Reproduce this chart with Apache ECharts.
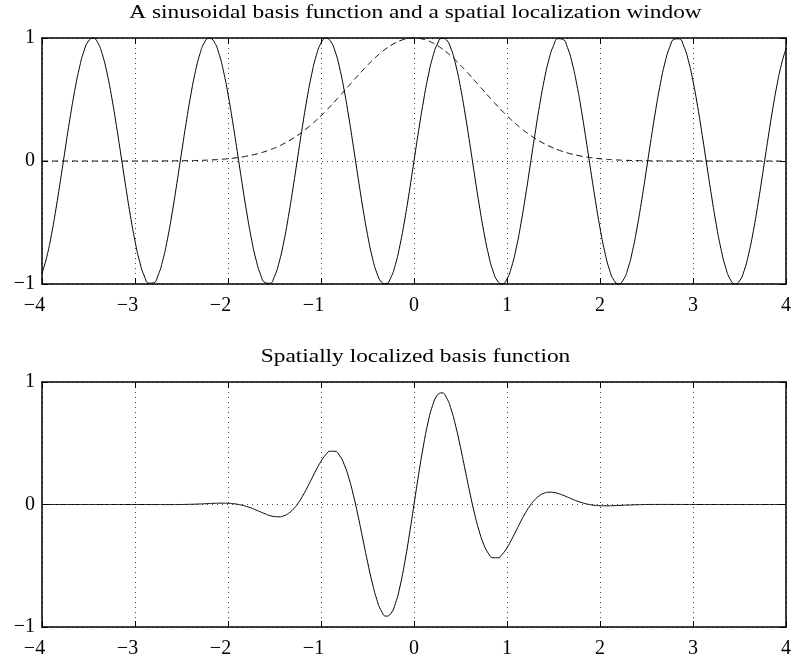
<!DOCTYPE html>
<html>
<head>
<meta charset="utf-8">
<script src="https://cdn.jsdelivr.net/npm/echarts@6/dist/echarts.min.js"></script>
<style>html,body{margin:0;padding:0;background:#fff}#c{width:794px;height:660px}</style>
</head>
<body>
<div id="c"></div>
<script>
// sample positions (x) along the horizontal axis
const xs = [-4,-3.95,-3.9,-3.85,-3.8,-3.75,-3.7,-3.65,-3.6,-3.55,-3.5,-3.45,-3.4,-3.35,-3.3,-3.25,-3.2,-3.15,-3.1,-3.05,
-3,-2.95,-2.9,-2.85,-2.8,-2.75,-2.7,-2.65,-2.6,-2.55,-2.5,-2.45,-2.4,-2.35,-2.3,-2.25,-2.2,-2.15,-2.1,-2.05,
-2,-1.95,-1.9,-1.85,-1.8,-1.75,-1.7,-1.65,-1.6,-1.55,-1.5,-1.45,-1.4,-1.35,-1.3,-1.25,-1.2,-1.15,-1.1,-1.05,
-1,-0.95,-0.9,-0.85,-0.8,-0.75,-0.7,-0.65,-0.6,-0.55,-0.5,-0.45,-0.4,-0.35,-0.3,-0.25,-0.2,-0.15,-0.1,-0.05,
0,0.05,0.1,0.15,0.2,0.25,0.3,0.35,0.4,0.45,0.5,0.55,0.6,0.65,0.7,0.75,0.8,0.85,0.9,0.95,
1,1.05,1.1,1.15,1.2,1.25,1.3,1.35,1.4,1.45,1.5,1.55,1.6,1.65,1.7,1.75,1.8,1.85,1.9,1.95,
2,2.05,2.1,2.15,2.2,2.25,2.3,2.35,2.4,2.45,2.5,2.55,2.6,2.65,2.7,2.75,2.8,2.85,2.9,2.95,
3,3.05,3.1,3.15,3.2,3.25,3.3,3.35,3.4,3.45,3.5,3.55,3.6,3.65,3.7,3.75,3.8,3.85,3.9,3.95,4];

// top panel: sinusoidal basis function (solid)
const sinusoid = [-0.9129,-0.7836,-0.6055,-0.3898,-0.1499,0.0994,0.3425,0.5643,0.7510,0.8910,
0.9756,0.9996,0.9614,0.8634,0.7118,0.5159,0.2879,0.0420,-0.2065,-0.4421,
-0.6503,-0.8180,-0.9349,-0.9936,-0.9906,-0.9260,-0.8038,-0.6316,-0.4202,-0.1826,
0.0663,0.3111,0.5366,0.7287,0.8755,0.9678,1.0000,0.9700,0.8797,0.7347,
0.5440,0.3195,0.0752,-0.1739,-0.4121,-0.6247,-0.7985,-0.9226,-0.9894,-0.9946,
-0.9380,-0.8231,-0.6570,-0.4500,-0.2151,0.0332,0.2794,0.5083,0.7055,0.8589,
0.9589,0.9993,0.9775,0.8950,0.7568,0.5716,0.3508,0.1082,-0.1411,-0.3817,
-0.5985,-0.7781,-0.9093,-0.9840,-0.9975,-0.9490,-0.8415,-0.6816,-0.4794,-0.2474,
0,
0.2474,0.4794,0.6816,0.8415,0.9490,0.9975,0.9840,0.9093,0.7781,0.5985,
0.3817,0.1411,-0.1082,-0.3508,-0.5716,-0.7568,-0.8950,-0.9775,-0.9993,-0.9589,
-0.8589,-0.7055,-0.5083,-0.2794,-0.0332,0.2151,0.4500,0.6570,0.8231,0.9380,
0.9946,0.9894,0.9226,0.7985,0.6247,0.4121,0.1739,-0.0752,-0.3195,-0.5440,
-0.7347,-0.8797,-0.9700,-1.0000,-0.9678,-0.8755,-0.7287,-0.5366,-0.3111,-0.0663,
0.1826,0.4202,0.6316,0.8038,0.9260,0.9906,0.9936,0.9349,0.8180,0.6503,
0.4421,0.2065,-0.0420,-0.2879,-0.5159,-0.7118,-0.8634,-0.9614,-0.9996,-0.9756,
-0.8910,-0.7510,-0.5643,-0.3425,-0.0994,0.1499,0.3898,0.6055,0.7836,0.9129];

// top panel: spatial localization window (dashed)
const windowFn = [0,0,0,0,0,0,0,0,0,0,0,0,0,0,0,0,0,0,0,0.0001,
0.0001,0.0002,0.0002,0.0003,0.0004,0.0005,0.0007,0.0009,0.0012,0.0015,
0.0019,0.0025,0.0032,0.0040,0.0050,0.0063,0.0079,0.0098,0.0122,0.0150,
0.0183,0.0223,0.0271,0.0326,0.0392,0.0468,0.0556,0.0657,0.0773,0.0905,
0.1054,0.1221,0.1409,0.1616,0.1845,0.2096,0.2369,0.2665,0.2982,0.3320,
0.3679,0.4056,0.4449,0.4855,0.5273,0.5698,0.6126,0.6554,0.6977,0.7389,
0.7788,0.8167,0.8521,0.8847,0.9139,0.9394,0.9608,0.9778,0.9900,0.9975,
1,
0.9975,0.9900,0.9778,0.9608,0.9394,0.9139,0.8847,0.8521,0.8167,
0.7788,0.7389,0.6977,0.6554,0.6126,0.5698,0.5273,0.4855,0.4449,0.4056,
0.3679,0.3320,0.2982,0.2665,0.2369,0.2096,0.1845,0.1616,0.1409,0.1221,
0.1054,0.0905,0.0773,0.0657,0.0556,0.0468,0.0392,0.0326,0.0271,0.0223,
0.0183,0.0150,0.0122,0.0098,0.0079,0.0063,0.0050,0.0040,0.0032,0.0025,
0.0019,0.0015,0.0012,0.0009,0.0007,0.0005,0.0004,0.0003,0.0002,0.0002,
0.0001,0.0001,0,0,0,0,0,0,0,0,0,0,0,0,0,0,0,0,0,0];

// bottom panel: spatially localized basis function
const localized = [0,0,0,0,0,0,0,0,0,0,0,0,0,0,0,0,0,0,0,0,
-0.0001,-0.0002,-0.0002,-0.0003,-0.0004,-0.0005,-0.0006,-0.0006,-0.0005,-0.0003,
0.0001,0.0008,0.0017,0.0029,0.0044,0.0061,0.0079,0.0095,0.0107,0.0110,
0.0100,0.0071,0.0020,-0.0057,-0.0162,-0.0292,-0.0444,-0.0606,-0.0765,-0.0900,
-0.0989,-0.1005,-0.0926,-0.0727,-0.0397,0.0070,0.0662,0.1355,0.2104,0.2852,
0.3528,0.4053,0.4349,0.4345,0.3991,0.3257,0.2149,0.0709,-0.0984,-0.2820,
-0.4661,-0.6355,-0.7748,-0.8706,-0.9116,-0.8915,-0.8085,-0.6665,-0.4746,-0.2468,
0,
0.2468,0.4746,0.6665,0.8085,0.8915,0.9116,0.8706,0.7748,0.6355,
0.4661,0.2820,0.0984,-0.0709,-0.2149,-0.3257,-0.3991,-0.4345,-0.4349,-0.4053,
-0.3528,-0.2852,-0.2104,-0.1355,-0.0662,-0.0070,0.0397,0.0727,0.0926,0.1005,
0.0989,0.0900,0.0765,0.0606,0.0444,0.0292,0.0162,0.0057,-0.0020,-0.0071,
-0.0100,-0.0110,-0.0107,-0.0095,-0.0079,-0.0061,-0.0044,-0.0029,-0.0017,-0.0008,
-0.0001,0.0003,0.0005,0.0006,0.0006,0.0005,0.0004,0.0003,0.0002,0.0002,
0.0001,0,0,0,0,0,0,0,0,0,0,0,0,0,0,0,0,0,0,0,0];

const xTickValues = [-4,-3,-2,-1,0,1,2,3,4];
const xTickLabels = ['\u22124','\u22123','\u22122','\u22121','0','1','2','3','4'];
const yTickValues = [-1,0,1];
const yTickLabels = ['\u22121','0','1'];

const titles = ['A sinusoidal basis function and a spatial localization window','Spatially localized basis function'];

const FONT = 'Liberation Serif';
const FS = 20;

function pairs(ys){ return xs.map((x,i)=>[x,ys[i]]); }
function xLab(v){
  const i = xTickValues.indexOf(Math.round(v));
  const t = i>=0 ? xTickLabels[i] : '';
  return v<0 ? '{n|'+t+'}' : '{p|'+t+'}';
}
function yLab(v){
  const i = yTickValues.indexOf(Math.round(v));
  return i>=0 ? yTickLabels[i] : '';
}

const grids = [
  {left:42, right:5, top:38, height:246},
  {left:42, right:5, top:382, height:245}
];

const xAxes = [], yAxes = [];
grids.forEach((g,gi)=>{
  xAxes.push({gridIndex:gi, type:'value', position:'bottom', min:-4, max:4, interval:1,
    axisLine:{show:true, onZero:false, lineStyle:{color:'#000', width:1.5}},
    axisTick:{show:true, inside:true, length:6, lineStyle:{color:'#000', width:1}},
    axisLabel:{show:true, margin:12, formatter:xLab, color:'#000', fontFamily:FONT, fontSize:FS,
      rich:{n:{fontFamily:FONT, fontSize:FS, color:'#000', padding:[0,15,0,0]}, p:{fontFamily:FONT, fontSize:FS, color:'#000'}}},
    splitLine:{show:true, lineStyle:{color:'#444', width:1, type:[1,4]}}});
  xAxes.push({gridIndex:gi, type:'value', position:'top', min:-4, max:4, interval:1,
    axisLine:{show:true, onZero:false, lineStyle:{color:'#000', width:1.5}},
    axisTick:{show:true, inside:true, length:6, lineStyle:{color:'#000', width:1}},
    axisLabel:{show:false}, splitLine:{show:false}});
  yAxes.push({gridIndex:gi, type:'value', position:'left', min:-1, max:1, interval:1,
    axisLine:{show:true, onZero:false, lineStyle:{color:'#000', width:1.5}},
    axisTick:{show:true, inside:true, length:6, lineStyle:{color:'#000', width:1}},
    axisLabel:{show:true, margin:7, formatter:yLab, color:'#000', fontFamily:FONT, fontSize:FS},
    splitLine:{show:true, lineStyle:{color:'#444', width:1, type:[1,4]}}});
  yAxes.push({gridIndex:gi, type:'value', position:'right', min:-1, max:1, interval:1,
    axisLine:{show:true, onZero:false, lineStyle:{color:'#000', width:1.5}},
    axisTick:{show:true, inside:true, length:6, lineStyle:{color:'#000', width:1}},
    axisLabel:{show:false}, splitLine:{show:false}});
});

function titleText(txt, y){
  return {type:'text', x:415.5, y:y, scaleX:1.23, silent:true,
    style:{text:txt, fontFamily:FONT, fontSize:19, fill:'#000',
      align:'center', verticalAlign:'middle', textAlign:'center', textVerticalAlign:'middle'}};
}

const chart = echarts.init(document.getElementById('c'), null, {renderer:'canvas'});
chart.setOption({
  animation:false,
  backgroundColor:'#fff',
  graphic:[titleText(titles[0], 13), titleText(titles[1], 357)],
  grid:grids,
  xAxis:xAxes,
  yAxis:yAxes,
  series:[
    {type:'line', xAxisIndex:0, yAxisIndex:0, data:pairs(sinusoid), smooth:true, showSymbol:false, lineStyle:{color:'#000', width:1}, z:3},
    {type:'line', xAxisIndex:0, yAxisIndex:0, data:pairs(windowFn), smooth:true, showSymbol:false, lineStyle:{color:'#000', width:1, type:[6,4]}, z:3},
    {type:'line', xAxisIndex:2, yAxisIndex:2, data:pairs(localized), smooth:true, showSymbol:false, lineStyle:{color:'#000', width:1}, z:3}
  ]
});
</script>
</body>
</html>
